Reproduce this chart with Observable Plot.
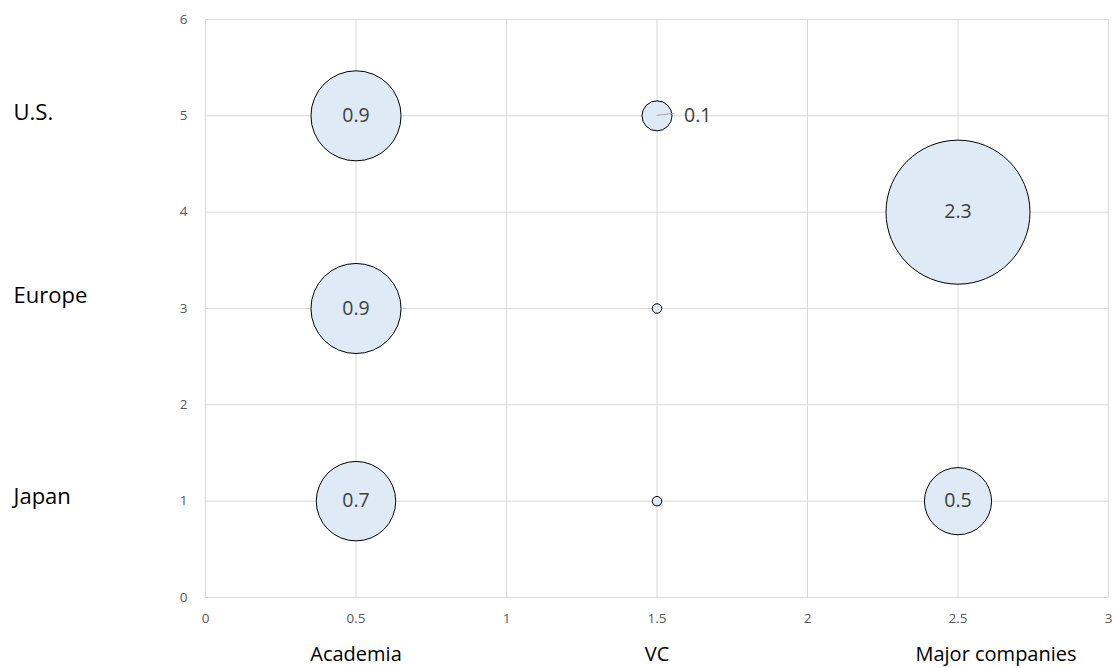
<!DOCTYPE html>
<html>
<head>
<meta charset="utf-8">
<script src="https://cdn.jsdelivr.net/npm/d3@7"></script>
<script src="https://cdn.jsdelivr.net/npm/@observablehq/plot@0.6"></script>
<style>
  html, body { margin: 0; padding: 0; background: #fff; }
</style>
</head>
<body>
<div id="chart"></div>
<script>
const xTicks = [0, 0.5, 1, 1.5, 2, 2.5, 3];
const yTicks = [0, 1, 2, 3, 4, 5, 6];

const regions = ["U.S.", "Europe", "Japan"];
const regionY = [5, 3, 1];

const sectors = ["Academia", "VC", "Major companies"];
const sectorX = [0.5, 1.5, 2.5];

const bubbleX = [0.5, 1.5, 0.5, 1.5, 2.5, 0.5, 1.5, 2.5];
const bubbleY = [5, 5, 3, 3, 4, 1, 1, 1];
const bubbleSize = [0.9, 0.1, 0.9, 0.01, 2.3, 0.7, 0.01, 0.5];
const bubbleLabel = ["0.9", "0.1", "0.9", "", "2.3", "0.7", "", "0.5"];

const bubbles = bubbleX.map((x, i) => ({x, y: bubbleY[i], size: bubbleSize[i], label: bubbleLabel[i]}));
const inside = bubbles.filter(d => d.label !== "" && d.size >= 0.3);
const outside = bubbles.filter(d => d.label !== "" && d.size < 0.3);
const regionRows = regions.map((name, i) => ({name, y: regionY[i]}));
const sectorRows = sectors.map((name, i) => ({name, x: sectorX[i]}));

const rowLabel = (rows, dy) => Plot.text(rows, {y: "y", text: "name", frameAnchor: "left", textAnchor: "start", dx: -192, dy, fontSize: 22, fill: "#000"});

// leader line from bubble centre to its outside label
const leader = (index, scales) => {
  const g = d3.create("svg:g");
  for (const d of outside) {
    const cx = scales.x(d.x), cy = scales.y(d.y);
    g.append("line").attr("x1", cx).attr("y1", cy).attr("x2", cx + 18).attr("y2", cy - 2)
      .attr("stroke", "#a6a6a6").attr("stroke-width", 1);
  }
  return g.node();
};

const chart = Plot.plot({
  width: 1118,
  height: 668,
  marginLeft: 205,
  marginRight: 10,
  marginTop: 19,
  marginBottom: 71,
  style: {fontFamily: "'Open Sans', sans-serif", background: "#fff"},
  x: {domain: [0, 3], axis: null},
  y: {domain: [0, 6], axis: null},
  r: {type: "sqrt", domain: [0, 2.3], range: [0, 72]},
  marks: [
    Plot.gridX(xTicks, {stroke: "#d9d9d9", strokeOpacity: 1}),
    Plot.gridY(yTicks, {stroke: "#d9d9d9", strokeOpacity: 1}),
    Plot.text(xTicks, {x: d => d, text: d => String(d), frameAnchor: "bottom", dy: 25, fontSize: 13.5, fill: "#595959"}),
    Plot.text(yTicks, {y: d => d, text: d => String(d), frameAnchor: "left", textAnchor: "end", dx: -18, fontSize: 13.5, fill: "#595959"}),
    Plot.dot(bubbles, {x: "x", y: "y", r: "size", fill: "#deebf7", stroke: "#000", strokeWidth: 1, sort: {channel: "-r"}}),
    leader,
    Plot.text(inside, {x: "x", y: "y", text: "label", fontSize: 19.5, fill: "#404040"}),
    Plot.text(outside, {x: "x", y: "y", text: "label", fontSize: 19.5, fill: "#404040", textAnchor: "start", dx: 27}),
    rowLabel(regionRows.slice(0, 1), -3),
    rowLabel(regionRows.slice(1, 2), -13),
    rowLabel(regionRows.slice(2), -4),
    Plot.text(sectorRows.slice(0, 2), {x: "x", text: "name", frameAnchor: "bottom", dy: 63, fontSize: 20, fill: "#000"}),
    Plot.text(sectorRows.slice(2), {x: "x", text: "name", frameAnchor: "bottom", dy: 63, dx: 38, fontSize: 20, fill: "#000"})
  ]
});
document.getElementById("chart").appendChild(chart);
</script>
</body>
</html>
